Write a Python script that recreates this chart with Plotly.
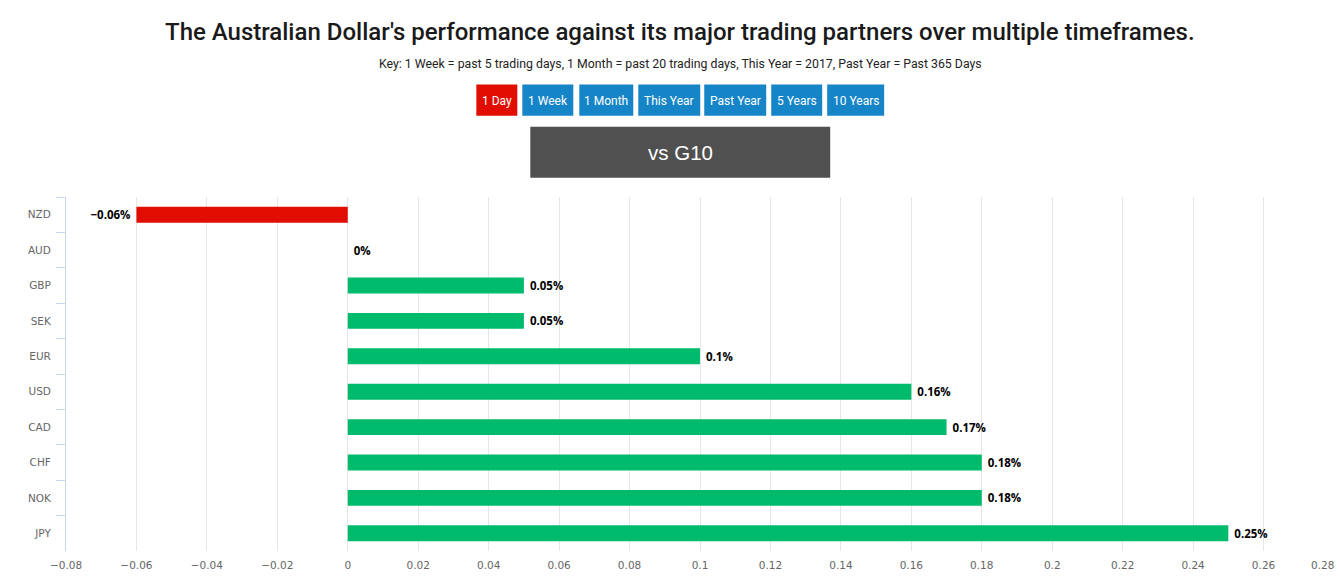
import plotly.graph_objects as go

currencies = ["NZD", "AUD", "GBP", "SEK", "EUR", "USD", "CAD", "CHF", "NOK", "JPY"]
values = [-0.06, 0, 0.05, 0.05, 0.1, 0.16, 0.17, 0.18, 0.18, 0.25]
buttons = ["1 Day", "1 Week", "1 Month", "This Year", "Past Year", "5 Years", "10 Years"]
tick_vals = [-0.08, -0.06, -0.04, -0.02, 0, 0.02, 0.04, 0.06, 0.08, 0.1, 0.12, 0.14,
             0.16, 0.18, 0.2, 0.22, 0.24, 0.26, 0.28]
x_min, x_max = -0.08, 0.28

def fmt_tick(t):
    return ("\u2212" if t < 0 else "") + f"{abs(t):g}"

tick_text = [fmt_tick(t) if t < x_max else "" for t in tick_vals]

W, H = 1340, 583
# page coordinates of plot area
PL, PR, PT, PB = 65.5, 1334, 197.3, 551
ML, MT = PL, PT
MR, MB = W - PR, H - PB
PW = W - ML - MR
PH = H - MT - MB

def px(x):
    return (x - PL) / PW

def py(y):
    return (PB - y) / PH

colors = ["#e00d00" if v < 0 else "#00bb6c" for v in values]
labels = [(f"<b>{v:g}%</b>\u00a0" if v < 0 else f"\u00a0<b>{v:g}%</b>").replace("-", "\u2212") for v in values]

fig = go.Figure(go.Bar(
    x=values, y=currencies, orientation="h",
    marker=dict(color=colors, line=dict(width=0)),
    text=labels, textposition="outside", cliponaxis=False,
    textfont=dict(family="Open Sans", size=11.5, color="#000"),
    hoverinfo="skip",
))

shapes = []
annotations = [
    dict(text="The Australian Dollar's performance against its major trading partners over multiple timeframes.",
         x=px(680), y=py(32), xref="paper", yref="paper", showarrow=False,
         font=dict(family="Roboto", size=24, color="#1a1a1a", weight=500), xanchor="center", yanchor="middle"),
    dict(text="Key: 1 Week = past 5 trading days, 1 Month = past 20 trading days, This Year = 2017, Past Year = Past 365 Days",
         x=px(680.5), y=py(64), xref="paper", yref="paper", showarrow=False,
         font=dict(family="Roboto", size=12.3, color="#222"), xanchor="center", yanchor="middle"),
    # last x tick label, pulled inside the chart like the reference
    dict(text=fmt_tick(x_max), x=px(1322), y=py(565), xref="paper", yref="paper", showarrow=False,
         font=dict(family="DejaVu Sans", size=10.5, color="#666"), xanchor="center", yanchor="middle"),
]

btn_x = [(476, 517), (522, 573), (579, 633), (638, 700), (704, 766), (771, 822), (827, 884)]
for i, (name, (x0, x1)) in enumerate(zip(buttons, btn_x)):
    col = "#e00d00" if i == 0 else "#1585c8"
    shapes.append(dict(type="rect", xref="paper", yref="paper",
                       x0=px(x0), x1=px(x1), y0=py(116), y1=py(85),
                       fillcolor=col, line=dict(width=0), layer="above"))
    annotations.append(dict(text=name, x=px((x0 + x1) / 2), y=py(101), xref="paper", yref="paper",
                            showarrow=False, font=dict(family="Roboto", size=12, color="#fff"),
                            xanchor="center", yanchor="middle"))

shapes.append(dict(type="rect", xref="paper", yref="paper",
                   x0=px(530), x1=px(830), y0=py(178), y1=py(127),
                   fillcolor="#505050", line=dict(width=0), layer="above"))
annotations.append(dict(text="vs G10", x=px(680), y=py(153), xref="paper", yref="paper",
                        showarrow=False, font=dict(family="Liberation Sans", size=20.5, color="#fff"),
                        xanchor="center", yanchor="middle"))

fig.update_layout(
    width=W, height=H,
    margin=dict(l=ML, r=MR, t=MT, b=MB, pad=0),
    paper_bgcolor="#fff", plot_bgcolor="#fff",
    showlegend=False, bargap=0.55,
    shapes=shapes, annotations=annotations,
    xaxis=dict(range=[x_min, x_max], tickvals=tick_vals, ticktext=tick_text,
               showgrid=True, gridcolor="#e6e6e6", gridwidth=1, zeroline=False,
               showline=False, ticks="", tickfont=dict(family="DejaVu Sans", size=10.5, color="#666"),
               ticklabelstandoff=6, fixedrange=True),
    yaxis=dict(categoryorder="array", categoryarray=currencies, autorange="reversed",
               showline=True, linecolor="#ccd6eb", linewidth=1,
               ticks="outside", tickson="boundaries", ticklen=9, tickcolor="#ccd6eb",
               showgrid=False, tickfont=dict(family="DejaVu Sans", size=10.5, color="#666"),
               ticklabelstandoff=12, fixedrange=True),
)

fig.write_html(
    "out.html",
    config={"displayModeBar": False},
    post_script="document.documentElement.style.overflow='hidden';"
                "document.body.style.margin='0';document.body.style.overflow='hidden';",
)
